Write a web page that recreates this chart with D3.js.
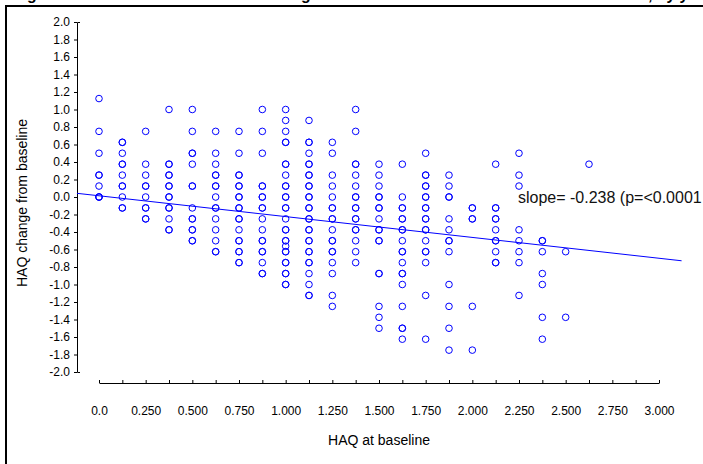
<!DOCTYPE html>
<html>
<head>
<meta charset="utf-8">
<script src="https://cdn.jsdelivr.net/npm/d3@7"></script>
<style>
  html, body { margin: 0; padding: 0; background: #fff; }
  svg { display: block; font-family: "Liberation Sans", Arial, sans-serif; }
</style>
</head>
<body>
<svg id="chart" width="703" height="464"></svg>
<script>
// Baseline HAQ score of each column of patients (HAQ moves in steps of 0.125)
const haqBaseline = [0, 0.125, 0.25, 0.375, 0.5, 0.625, 0.75, 0.875, 1.0, 1.125, 1.25,
                     1.375, 1.5, 1.625, 1.75, 1.875, 2.0, 2.125, 2.25, 2.375, 2.5, 2.625];

// Change in HAQ from baseline for every patient in each baseline column
// (repeated values are patients sharing the same point)
const haqChange = [
  [1.125, 0.75, 0.5, 0.25, 0.25, 0.125, 0, 0, 0],
  [0.625, 0.625, 0.5, 0.375, 0.375, 0.25, 0.125, 0.125, 0, -0.125, -0.125],
  [0.75, 0.375, 0.25, 0.125, 0.125, 0, -0.125, -0.125, -0.25, -0.25],
  [1.0, 0.375, 0.375, 0.25, 0.25, 0.125, 0.125, 0, 0, -0.125, -0.125, -0.25, -0.375, -0.375],
  [1.0, 0.75, 0.5, 0.5, 0.375, 0.125, 0.125, -0.125, -0.25, -0.25, -0.375, -0.375, -0.5, -0.5],
  [0.75, 0.5, 0.375, 0.25, 0.25, 0.125, 0.125, 0, -0.125, -0.125, -0.25, -0.375, -0.5, -0.625, -0.625],
  [0.75, 0.5, 0.25, 0.25, 0.125, 0.125, 0, 0, -0.125, -0.125, -0.25, -0.25, -0.375, -0.5, -0.5,
   -0.625, -0.625, -0.75, -0.75],
  [1.0, 0.75, 0.5, 0.125, 0.125, 0, 0, -0.125, -0.125, -0.25, -0.375, -0.5, -0.5, -0.625, -0.625,
   -0.75, -0.875, -0.875],
  [1.0, 0.875, 0.75, 0.625, 0.625, 0.375, 0.375, 0.25, 0.125, 0.125, 0, 0, -0.125, -0.125, -0.25,
   -0.375, -0.375, -0.5, -0.5, -0.5625, -0.625, -0.625, -0.75, -0.75, -0.875, -0.875, -1.0, -1.0],
  [0.875, 0.625, 0.625, 0.5, 0.375, 0.375, 0.25, 0.25, 0.125, 0.125, 0, 0, -0.125, -0.125, -0.25,
   -0.25, -0.375, -0.375, -0.5, -0.5, -0.625, -0.625, -0.75, -0.75, -0.875, -1.0, -1.125, -1.125],
  [0.625, 0.5, 0.25, 0.125, 0, -0.125, -0.125, -0.25, -0.25, -0.375, -0.5, -0.5, -0.625, -0.625,
   -0.75, -0.875, -1.125, -1.25],
  [1.0, 0.75, 0.375, 0.375, 0.25, 0.125, 0, 0, -0.125, -0.125, -0.25, -0.25, -0.375, -0.375,
   -0.5, -0.625, -0.75],
  [0.375, 0.25, 0.125, 0, 0, -0.125, -0.125, -0.25, -0.375, -0.375, -0.5, -0.5, -0.875, -0.875,
   -1.25, -1.375, -1.5],
  [0.375, 0, -0.125, -0.125, -0.25, -0.25, -0.375, -0.375, -0.5, -0.625, -0.625, -0.75, -0.875,
   -0.875, -1.0, -1.25, -1.5, -1.5, -1.625],
  [0.5, 0.25, 0.25, 0.125, 0.125, 0, 0, -0.125, -0.125, -0.25, -0.25, -0.375, -0.375, -0.5,
   -0.625, -0.625, -0.75, -1.125, -1.625],
  [0.25, 0.125, 0, 0, -0.25, -0.375, -0.5, -0.5, -0.625, -1.0, -1.25, -1.5, -1.75],
  [-0.125, -0.125, -0.25, -0.25, -1.25, -1.75],
  [0.375, -0.125, -0.125, -0.25, -0.25, -0.375, -0.5, -0.5, -0.625, -0.75, -0.75],
  [0.5, 0.25, 0.125, -0.375, -0.5, -0.625, -0.75, -1.125],
  [-0.5, -0.5, -0.625, -0.875, -1.0, -1.375, -1.625],
  [-0.625, -1.375],
  [0.375]
];

// Least-squares fit of change on baseline
const fitSlope = -0.238;
const fitIntercept = 0.014;
const fitRange = [-0.118, 3.121];
const fitLabel = "slope= -0.238 (p=<0.0001";

// Axis ticks and labels
const yTickValues = [2.0, 1.8, 1.6, 1.4, 1.2, 1.0, 0.8, 0.6, 0.4, 0.2, 0.0,
                     -0.2, -0.4, -0.6, -0.8, -1.0, -1.2, -1.4, -1.6, -1.8, -2.0];
const xTickValues = [0, 0.125, 0.25, 0.375, 0.5, 0.625, 0.75, 0.875, 1.0, 1.125, 1.25, 1.375,
                     1.5, 1.625, 1.75, 1.875, 2.0, 2.125, 2.25, 2.375, 2.5, 2.625, 2.75, 2.875, 3.0];
const xLabelValues = [0, 0.25, 0.5, 0.75, 1.0, 1.25, 1.5, 1.75, 2.0, 2.25, 2.5, 2.75, 3.0];
const xLabelText = ["0.0", "0.250", "0.500", "0.750", "1.000", "1.250", "1.500",
                    "1.750", "2.000", "2.250", "2.500", "2.750", "3.000"];

const svg = d3.select("#chart");
const blue = "#0000ff";

const x = d3.scaleLinear().domain([0, 3]).range([99, 659]);
const y = d3.scaleLinear().domain([-2, 2]).range([372, 22]);

// Outer frame of the figure
svg.append("rect")
  .attr("x", 6).attr("y", 6)
  .attr("width", 760).attr("height", 520)
  .attr("fill", "none").attr("stroke", "#000").attr("stroke-width", 2);

// Figure heading (runs above the frame)
const heading = svg.append("text")
  .attr("y", -0.5)
  .attr("font-size", 15.8).attr("font-weight", "bold").attr("fill", "#000");
heading.append("tspan").attr("x", 13)
  .text("Figure 1. Relation between score change and baseline score");
heading.append("tspan").attr("x", 648).text(", by year");

// Y axis
const yAxis = d3.axisLeft(y)
  .tickValues(yTickValues)
  .tickSizeInner(3)
  .tickSizeOuter(-3)
  .tickPadding(4)
  .tickFormat(d => d.toFixed(1));
const gy = svg.append("g").attr("transform", "translate(77,0)").call(yAxis);
gy.selectAll("text").attr("font-size", 12).attr("fill", "#000")
  .attr("font-family", "'Liberation Sans', Arial, sans-serif");
gy.selectAll("line, path").attr("stroke", "#000");

// X axis
const labelFor = new Map(xLabelValues.map((v, i) => [v, xLabelText[i]]));
const xAxis = d3.axisBottom(x)
  .tickValues(xTickValues)
  .tickSizeInner(-3)
  .tickSizeOuter(0)
  .tickPadding(23)
  .tickFormat(d => labelFor.get(d) || "");
const gx = svg.append("g").attr("transform", "translate(0,383)").call(xAxis);
gx.selectAll("text").attr("font-size", 12).attr("fill", "#000")
  .attr("font-family", "'Liberation Sans', Arial, sans-serif");
gx.selectAll("line, path").attr("stroke", "#000");

// Axis titles
svg.append("text")
  .attr("transform", `translate(27,${(y(2) + y(-2)) / 2 + 6}) rotate(-90)`)
  .attr("text-anchor", "middle")
  .attr("font-size", 14).attr("fill", "#000")
  .text("HAQ change from baseline");
svg.append("text")
  .attr("x", (x(0) + x(3)) / 2).attr("y", 445)
  .attr("text-anchor", "middle")
  .attr("font-size", 14).attr("fill", "#000")
  .text("HAQ at baseline");

// Patients
const points = haqBaseline.flatMap((b, i) => haqChange[i].map(c => ({ b, c })));
svg.append("g")
  .selectAll("circle")
  .data(points)
  .join("circle")
  .attr("cx", d => x(d.b))
  .attr("cy", d => y(d.c))
  .attr("r", 3.3)
  .attr("fill", "none")
  .attr("stroke", blue)
  .attr("stroke-width", 1);

// Regression line
const fit = fitRange.map(b => [b, fitIntercept + fitSlope * b]);
svg.append("path")
  .attr("d", d3.line().x(d => x(d[0])).y(d => y(d[1]))(fit))
  .attr("fill", "none")
  .attr("stroke", blue)
  .attr("stroke-width", 1);

svg.append("text")
  .attr("x", 518).attr("y", 203)
  .attr("font-size", 16).attr("fill", "#111")
  .text(fitLabel);
</script>
</body>
</html>
